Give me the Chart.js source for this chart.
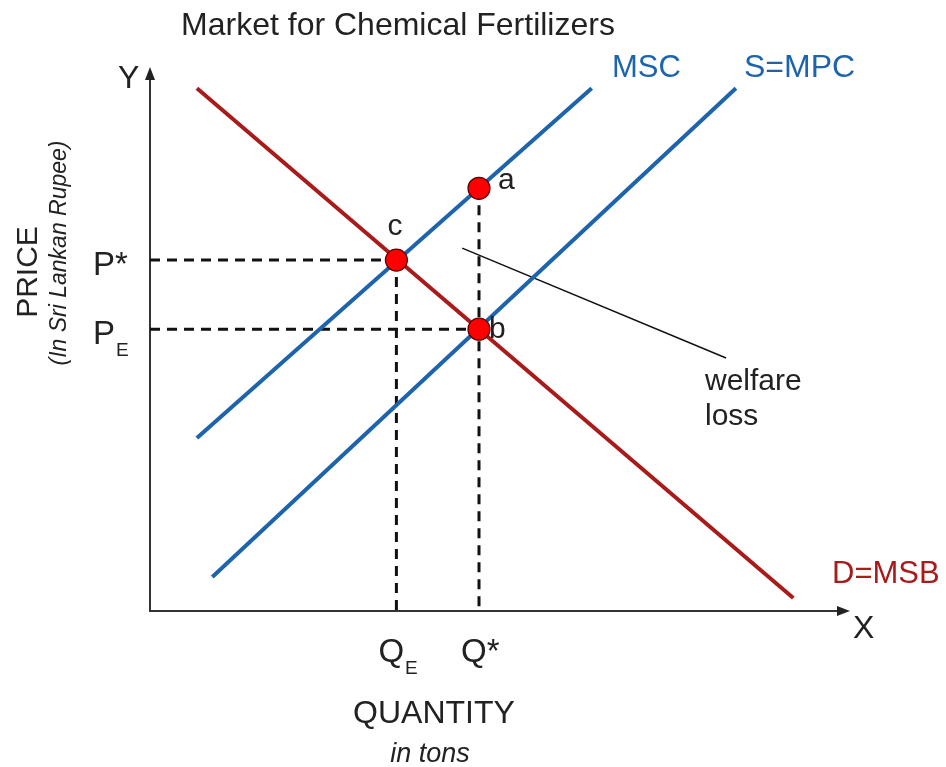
<!DOCTYPE html>
<html>
<head>
<meta charset="utf-8">
<script src="https://cdn.jsdelivr.net/npm/chart.js"></script>
<style>
    body { margin: 0; background: #fff; }
    .wrap { width: 946px; height: 767px; }
</style>
</head>
<body>
<div class="wrap">
    <canvas id="market-chart"></canvas>
</div>

<script>
    // curvas (cantidad, precio) en unidades 0..100
    var demandQ = [6.7, 91.9];
    var demandP = [96.1, 2.4];
    var mscQ = [6.7, 63.1];
    var mscP = [31.8, 96.1];
    var mpcQ = [8.9, 83.7];
    var mpcP = [6.25, 96.1];

    // puntos marcados
    var pointNames = ['c', 'a', 'b'];
    var pointQ = [35.2, 47, 47];
    var pointP = [64.5, 77.7, 51.8];

    // marcas de los ejes
    var priceTicks = ['P*', 'P|E'];
    var priceValues = [64.5, 51.8];
    var qtyTicks = ['Q|E', 'Q*'];
    var qtyValues = [35.2, 47];

    // linea que apunta a "welfare loss"
    var pointerQ = [44.6, 82.3];
    var pointerP = [66.7, 46.5];

    var BLUE = '#1d64ad';
    var RED = '#a91b1b';
    var FONT = '"Liberation Sans", Arial, sans-serif';

    function zip(xs, ys) {
        return xs.map(function (x, i) { return { x: x, y: ys[i] }; });
    }

    function lineSet(data, color, width, dash, order) {
        return {
            data: data,
            borderColor: color,
            borderWidth: width,
            borderDash: dash || [],
            pointRadius: 0,
            showLine: true,
            fill: false,
            order: order
        };
    }

    var datasets = [
        // puntos rojos encima de todo
        {
            data: zip(pointQ, pointP),
            showLine: false,
            pointRadius: 11,
            pointBackgroundColor: '#ff0000',
            pointBorderColor: '#5a0000',
            pointBorderWidth: 1.2,
            order: 0
        },
        lineSet(zip(demandQ, demandP), RED, 4, null, 1),
        lineSet(zip(mscQ, mscP), BLUE, 4, null, 1),
        lineSet(zip(mpcQ, mpcP), BLUE, 4, null, 1),
        // lineas punteadas
        lineSet([{ x: 0, y: priceValues[0] }, { x: pointQ[0], y: priceValues[0] }], '#111', 3, [10, 7], 2),
        lineSet([{ x: pointQ[0], y: pointP[0] }, { x: qtyValues[0], y: 0 }], '#111', 3, [10, 7], 2),
        lineSet([{ x: 0, y: priceValues[1] }, { x: pointQ[2], y: priceValues[1] }], '#111', 3, [10, 7], 2),
        lineSet([{ x: pointQ[1], y: pointP[1] }, { x: qtyValues[1], y: 0 }], '#111', 3, [10, 7], 2),
        lineSet(zip(pointerQ, pointerP), '#111', 1.5, null, 2)
    ];

    function text(ctx, str, x, y, size, opts) {
        opts = opts || {};
        ctx.save();
        ctx.font = (opts.italic ? 'italic ' : '') + size + 'px ' + FONT;
        ctx.fillStyle = opts.color || '#222';
        ctx.textAlign = opts.align || 'left';
        ctx.textBaseline = 'alphabetic';
        ctx.translate(x, y);
        if (opts.rotate) ctx.rotate(opts.rotate);
        ctx.fillText(str, 0, 0);
        ctx.restore();
    }

    // etiqueta con subindice, formato "P|E"
    function subText(ctx, label, x, y, size) {
        var parts = label.split('|');
        text(ctx, parts[0], x, y, size);
        if (parts[1]) {
            ctx.font = size + 'px ' + FONT;
            var w = ctx.measureText(parts[0]).width;
            text(ctx, parts[1], x + w + 1, y + 12, 19);
        }
    }

    var axesPlugin = {
        id: 'axesAndLabels',
        beforeDatasetsDraw: function (chart) {
            var ctx = chart.ctx;
            var xs = chart.scales.x, ys = chart.scales.y;
            var x0 = xs.getPixelForValue(0), y0 = ys.getPixelForValue(0);
            var x1 = xs.getPixelForValue(100), y1 = ys.getPixelForValue(100);
            ctx.save();
            ctx.strokeStyle = '#333';
            ctx.fillStyle = '#222';
            ctx.lineWidth = 2;
            ctx.beginPath();
            ctx.moveTo(x0, y1 + 8);
            ctx.lineTo(x0, y0);
            ctx.lineTo(x1 - 8, y0);
            ctx.stroke();
            // flechas
            ctx.beginPath();
            ctx.moveTo(x0, y1);
            ctx.lineTo(x0 - 5, y1 + 13);
            ctx.lineTo(x0 + 5, y1 + 13);
            ctx.closePath();
            ctx.fill();
            ctx.beginPath();
            ctx.moveTo(x1, y0);
            ctx.lineTo(x1 - 13, y0 - 5);
            ctx.lineTo(x1 - 13, y0 + 5);
            ctx.closePath();
            ctx.fill();
            ctx.restore();
        },
        afterDraw: function (chart) {
            var ctx = chart.ctx;
            var xs = chart.scales.x, ys = chart.scales.y;
            var x0 = xs.getPixelForValue(0), y0 = ys.getPixelForValue(0);

            text(ctx, 'Market for Chemical Fertilizers', 398, 35, 32, { align: 'center' });
            text(ctx, 'Y', x0 - 32, 88, 32);
            text(ctx, 'X', xs.getPixelForValue(100) + 3, 638, 32);

            text(ctx, 'MSC', 612, 77, 31, { color: BLUE });
            text(ctx, 'S=MPC', 744, 77, 32, { color: BLUE });
            text(ctx, 'D=MSB', 832, 583, 31, { color: RED });

            priceTicks.forEach(function (t, i) {
                subText(ctx, t, 93, ys.getPixelForValue(priceValues[i]) + 15, 33);
            });
            qtyTicks.forEach(function (t, i) {
                var px = xs.getPixelForValue(qtyValues[i]);
                subText(ctx, t, px - 18, y0 + 51, 33);
            });

            // letras de los puntos
            var offs = { c: [-9, -25], a: [19, 1], b: [10, 9] };
            pointNames.forEach(function (n, i) {
                var px = xs.getPixelForValue(pointQ[i]);
                var py = ys.getPixelForValue(pointP[i]);
                text(ctx, n, px + offs[n][0], py + offs[n][1], 30);
            });

            text(ctx, 'welfare', 705, 390, 30);
            text(ctx, 'loss', 705, 425, 30);

            text(ctx, 'QUANTITY', 434, 723, 32, { align: 'center' });
            text(ctx, 'in tons', 430, 762, 27, { align: 'center', italic: true });
            text(ctx, 'PRICE', 37, 272, 30, { align: 'center', rotate: -Math.PI / 2 });
            text(ctx, '(In Sri Lankan Rupee)', 66, 253, 23, { align: 'center', italic: true, rotate: -Math.PI / 2 });
        }
    };

    var ctx = document.getElementById('market-chart').getContext('2d');
    var marketChart = new Chart(ctx, {
        type: 'scatter',
        data: { datasets: datasets },
        options: {
            responsive: true,
            maintainAspectRatio: false,
            animation: false,
            layout: { padding: { left: 150, right: 96, top: 67, bottom: 156 } },
            plugins: { legend: { display: false }, tooltip: { enabled: false } },
            scales: {
                x: { type: 'linear', min: 0, max: 100, display: false },
                y: { type: 'linear', min: 0, max: 100, display: false }
            }
        },
        plugins: [axesPlugin]
    });
</script>
</body>
</html>
